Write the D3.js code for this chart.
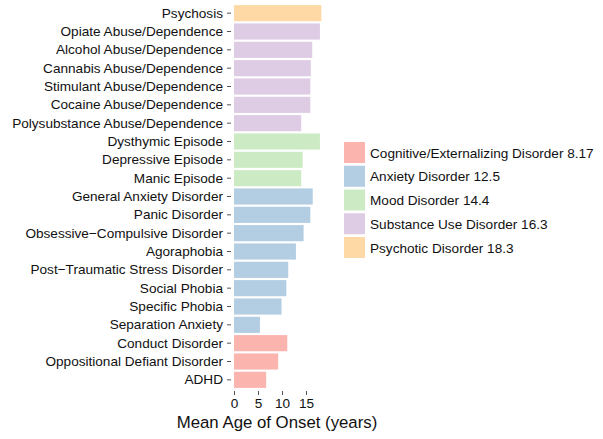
<!DOCTYPE html>
<html>
<head>
<meta charset="utf-8">
<script src="https://cdn.jsdelivr.net/npm/d3@7"></script>
<style>
  body { margin: 0; background: #fff; }
  text { font-family: "Liberation Sans", Arial, sans-serif; }
</style>
</head>
<body>
<div id="chart"></div>
<script>
var disorders = ["Psychosis", "Opiate Abuse/Dependence", "Alcohol Abuse/Dependence", "Cannabis Abuse/Dependence",
  "Stimulant Abuse/Dependence", "Cocaine Abuse/Dependence", "Polysubstance Abuse/Dependence",
  "Dysthymic Episode", "Depressive Episode", "Manic Episode",
  "General Anxiety Disorder", "Panic Disorder", "Obsessive\u2212Compulsive Disorder", "Agoraphobia",
  "Post\u2212Traumatic Stress Disorder", "Social Phobia", "Specific Phobia", "Separation Anxiety",
  "Conduct Disorder", "Oppositional Defiant Disorder", "ADHD"];
var onset = [18.2, 17.9, 16.3, 16.0, 15.9, 15.9, 14.0,
  17.9, 14.3, 14.0,
  16.4, 15.9, 14.5, 12.9, 11.3, 10.9, 9.9, 5.4,
  11.1, 9.2, 6.7];
var group = [4, 3, 3, 3, 3, 3, 3, 2, 2, 2, 1, 1, 1, 1, 1, 1, 1, 1, 0, 0, 0];
var legendLabels = ["Cognitive/Externalizing Disorder 8.17", "Anxiety Disorder 12.5", "Mood Disorder 14.4",
  "Substance Use Disorder 16.3", "Psychotic Disorder 18.3"];
var colors = ["#fbb4ae", "#b3cde3", "#ccebc5", "#decbe4", "#fed9a6"];
var xTicks = [0, 5, 10, 15];

var width = 603, height = 439,
  plotLeft = 234, plotTop = 4, plotBottom = 389;

var svg = d3.select("#chart").append("svg")
  .attr("width", width).attr("height", height);

var x = d3.scaleLinear().domain([0, 1]).range([plotLeft, plotLeft + 4.8]);
var y = d3.scaleBand().domain(disorders).range([plotTop, plotBottom]).paddingInner(0.12).paddingOuter(0.06);

svg.selectAll("rect.bar")
  .data(disorders)
  .enter().append("rect")
  .attr("class", "bar")
  .attr("x", x(0))
  .attr("y", function(d) { return y(d); })
  .attr("height", y.bandwidth())
  .attr("width", function(d, i) { return x(onset[i]) - x(0); })
  .style("fill", function(d, i) { return colors[group[i]]; });

var yAxis = svg.append("g")
  .attr("transform", "translate(" + (plotLeft - 3) + ",0)")
  .call(d3.axisLeft(y).tickSize(4).tickPadding(4));
yAxis.select(".domain").remove();
yAxis.selectAll("line").attr("stroke", "#555");
yAxis.selectAll("text").style("font-size", "13.6px").attr("fill", "#111");

var xAxis = svg.append("g")
  .attr("transform", "translate(0," + (plotBottom + 2) + ")")
  .call(d3.axisBottom(x).tickValues(xTicks).tickFormat(d3.format("d")).tickSize(4).tickPadding(3));
xAxis.select(".domain").remove();
xAxis.selectAll("line").attr("stroke", "#555");
xAxis.selectAll("text").style("font-size", "13.6px").attr("fill", "#111");

svg.append("text")
  .attr("x", 277).attr("y", 428)
  .attr("text-anchor", "middle")
  .style("font-size", "16.8px")
  .attr("fill", "#111")
  .text("Mean Age of Onset (years)");

var legend = svg.append("g").attr("transform", "translate(344,142)");
var item = legend.selectAll("g")
  .data(legendLabels)
  .enter().append("g")
  .attr("transform", function(d, i) { return "translate(0," + (i * 23.75) + ")"; });
item.append("rect")
  .attr("width", 21).attr("height", 21)
  .style("fill", function(d, i) { return colors[i]; });
item.append("text")
  .attr("x", 26).attr("y", 15.5)
  .style("font-size", "13.6px")
  .attr("fill", "#111")
  .text(function(d) { return d; });
</script>
</body>
</html>
